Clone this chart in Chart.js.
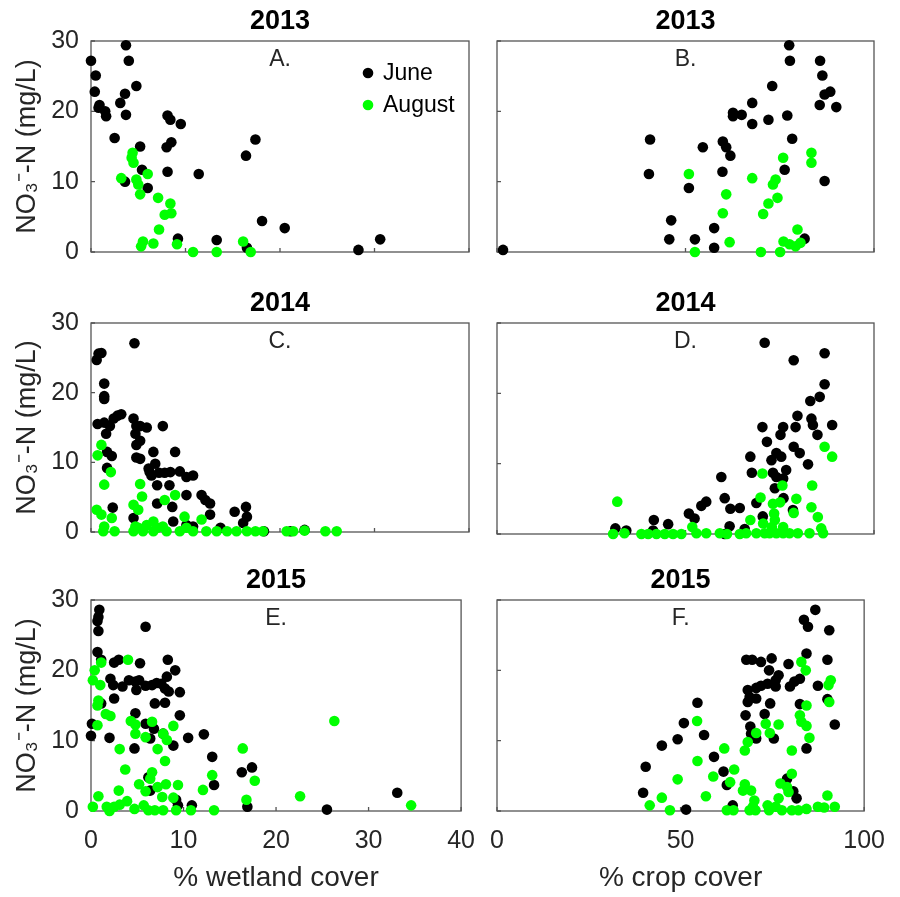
<!DOCTYPE html>
<html>
<head>
<meta charset="utf-8">
<script src="https://cdn.jsdelivr.net/npm/chart.js@4/dist/chart.umd.min.js"></script>
<style>
body { margin: 0; background: #fff; }
#wrap { position: relative; width: 900px; height: 897px; overflow: hidden; }
#wrap canvas { position: absolute; }
</style>
</head>
<body>
<div id="wrap"></div>
<script>
// axis ticks / labels
var yTicks = [0, 10, 20, 30];
var wetTicks = [0, 10, 20, 30, 40];
var cropTicks = [0, 50, 100];
var years = ['2013', '2014', '2015'];
var letters = [['A.', 'B.'], ['C.', 'D.'], ['E.', 'F.']];
var seriesNames = ['June', 'August'];

// 2013 - wetland cover [x, NO3-N]
var wet13June = [[0,27.2],[0.5,25.1],[0.4,22.8],[0.9,20.9],[0.8,20.5],[1.5,20.0],[1.6,19.3],[3.7,29.4],[4.0,27.2],[3.6,22.5],[3.1,21.2],[3.7,19.5],[4.8,23.6],[2.5,16.2],[5.2,15.0],[5.4,11.7],[3.6,10.0],[6.0,9.1],[8.1,19.4],[8.4,18.8],[9.5,18.2],[8.5,15.6],[8.0,14.9],[8.1,11.4],[11.4,11.1],[17.4,16.0],[16.4,13.7],[18.1,4.4],[20.5,3.4],[9.2,1.9],[13.3,1.7],[16.5,0.6],[28.3,0.3],[30.6,1.8]];
var wet13Aug = [[4.4,14.1],[4.3,13.4],[4.5,12.7],[3.2,10.5],[4.8,10.3],[5.0,9.6],[5.2,8.2],[6.0,11.1],[7.1,7.7],[8.4,6.9],[8.5,5.5],[7.8,5.3],[7.2,3.2],[5.5,1.5],[5.3,0.8],[6.6,1.2],[9.1,1.1],[10.8,0],[13.3,0],[16.1,1.5],[16.9,0]];
// 2013 - crop cover
var crop13June = [[1.6,0.3],[40.6,16.0],[40.3,11.1],[46.2,4.5],[45.7,1.8],[52.5,1.8],[57.6,0.6],[57.6,3.4],[50.9,9.1],[54.6,14.9],[59.9,15.7],[60.8,14.9],[61.9,13.7],[59.8,11.4],[62.6,19.8],[62.6,19.3],[64.9,19.5],[67.7,21.2],[67.7,18.2],[72.0,18.8],[73.0,23.6],[77.5,29.4],[77.7,27.2],[77.0,19.4],[78.3,16.1],[76.3,11.7],[85.7,27.2],[86.3,25.1],[88.4,22.8],[86.9,22.4],[85.6,20.9],[90.0,20.6],[86.9,10.1],[81.6,1.9]];
var crop13Aug = [[50.9,11.1],[52.5,0],[60.8,8.2],[59.9,5.5],[61.7,1.4],[67.7,10.5],[75.9,13.4],[83.4,14.1],[83.4,12.7],[73.9,10.3],[73.2,9.6],[74.4,7.7],[72.0,6.9],[70.6,5.4],[70.0,0],[75.1,0],[79.7,3.2],[76.0,1.5],[77.6,1.1],[79.2,0.8],[80.5,1.3]];

// 2014 - wetland cover
var wet14June = [[0.6,24.7],[0.8,25.6],[1.1,25.7],[1.4,21.3],[1.4,19.5],[1.4,19.1],[0.7,15.5],[1.4,15.7],[1.6,14.1],[2.0,15.2],[2.4,16.3],[2.8,16.7],[3.2,16.9],[1.7,11.5],[2.2,10.9],[1.7,9.2],[2.3,3.5],[4.6,27.1],[4.5,16.3],[4.8,15.2],[5.2,15.2],[5.9,15.0],[4.7,14.1],[4.8,12.5],[5.2,13.1],[4.8,10.7],[5.2,10.5],[7.6,15.2],[6.6,11.5],[6.8,9.8],[6.1,9.1],[6.4,8.1],[7.0,6.7],[6.2,8.6],[8.9,11.5],[7.2,8.5],[7.8,8.5],[8.4,8.6],[9.4,8.7],[10.1,7.9],[10.8,8.1],[8.3,6.7],[7.0,4.1],[8.6,3.6],[10.1,5.3],[11.7,5.3],[12.1,4.6],[12.6,4.1],[12.6,2.5],[4.5,2.0],[8.7,1.5],[10.1,1.0],[10.8,0.8],[13.7,0.6],[15.2,2.9],[16.4,3.6],[16.5,2.2],[16.1,1.3],[18.3,0.1],[21.1,0.1],[22.6,0.3]];
var wet14Aug = [[1.1,12.5],[0.7,11.0],[2.1,8.6],[1.4,6.8],[0.6,3.2],[1.1,2.5],[2.2,2.0],[1.4,0.8],[2.5,0.1],[1.3,0.1],[5.2,6.9],[5.4,5.1],[4.5,3.9],[5.0,3.2],[7.8,4.6],[8.9,5.3],[9.9,2.2],[11.7,1.8],[4.7,0.8],[5.9,1.0],[6.6,1.5],[7.6,0.8],[4.5,0.1],[5.0,0.6],[5.5,0.1],[6.6,0.1],[7.0,0.6],[8.0,0.1],[9.4,0.1],[10.1,0.6],[10.8,0.1],[12.2,0.1],[13.3,0.1],[14.4,0.1],[15.4,0.1],[16.5,0.1],[17.4,0.1],[18.2,0.1],[20.7,0.1],[21.4,0.1],[22.6,0.2],[24.8,0.1],[26.0,0.1]];
// 2014 - crop cover
var crop14June = [[71.0,27.2],[78.7,24.7],[86.9,25.7],[86.9,21.3],[85.6,19.5],[83.1,18.9],[79.7,16.8],[79.2,15.2],[83.4,16.4],[83.8,15.5],[88.9,15.5],[85.0,14.1],[70.4,15.2],[75.9,15.2],[75.2,14.1],[71.6,13.1],[78.7,12.4],[80.3,11.5],[74.1,11.5],[75.4,11.0],[72.8,10.5],[67.2,11.0],[82.5,9.9],[67.6,8.7],[73.2,8.7],[76.7,9.1],[74.1,8.1],[75.9,7.9],[73.7,6.5],[59.5,8.1],[60.4,5.1],[61.9,3.6],[64.4,3.7],[68.8,4.4],[76.0,5.1],[70.5,2.5],[78.5,3.4],[55.5,4.6],[54.2,4.0],[50.9,2.9],[52.4,2.2],[41.6,2.0],[45.4,1.4],[31.4,0.8],[34.3,0.5],[61.7,1.1],[60.4,0],[65.7,0.7],[41.4,0.5]];
var crop14Aug = [[31.9,4.6],[86.9,12.4],[88.9,11.0],[70.4,8.6],[75.7,6.9],[83.6,6.9],[69.9,5.2],[79.4,5.0],[73.2,4.3],[75.1,4.5],[83.4,3.8],[78.7,3.0],[85.1,2.4],[67.2,2.0],[73.5,2.9],[73.7,2.0],[51.8,1.0],[30.8,0],[33.8,0.1],[38.3,0],[40.1,0],[42.3,0],[44.5,0],[46.7,0],[48.9,0],[52.9,0.1],[55.5,0.1],[59.1,0.1],[61.0,0],[64.4,0],[66.1,0.1],[68.8,0.1],[71.0,0.1],[72.3,0.1],[74.1,0.1],[75.9,0.1],[77.6,0.1],[79.8,0.1],[82.9,0.1],[86.5,0.1],[75.9,1.0],[70.6,1.5],[86.0,0.8],[72.9,1.0]];

// 2015 - wetland cover
var wet15June = [[0.9,28.6],[0.8,27.6],[0.7,27.0],[0.8,25.6],[0.7,22.6],[1.1,21.5],[0.1,12.4],[0,10.7],[1.1,15.3],[2.0,10.4],[2.5,16.0],[2.5,21.1],[3.0,21.5],[2.1,18.8],[2.4,17.9],[3.4,17.7],[4.1,18.6],[4.8,18.4],[5.2,18.6],[4.9,17.2],[5.9,17.8],[6.6,17.9],[7.1,18.2],[7.6,18.1],[8.0,17.4],[8.4,17.0],[8.2,19.1],[9.1,20.0],[8.3,21.5],[9.6,16.9],[5.3,21.0],[5.9,26.2],[6.9,15.3],[8.0,15.4],[4.8,13.9],[9.6,13.6],[5.9,12.4],[6.8,11.7],[6.4,10.3],[7.8,11.0],[8.9,9.3],[4.7,8.9],[10.5,10.4],[12.2,10.9],[13.1,7.7],[13.3,3.7],[6.2,4.8],[6.4,2.9],[9.2,1.6],[9.4,0.8],[10.9,0.8],[16.3,5.5],[17.4,6.2],[16.9,0.6],[25.5,0.2],[33.1,2.6]];
var wet15Aug = [[0.4,20.0],[0.2,18.6],[1.0,17.9],[1.1,21.1],[0.8,15.7],[0.7,15.0],[0.7,12.2],[1.6,13.8],[2.1,13.5],[4.0,21.5],[4.3,12.8],[4.8,12.3],[4.8,11.0],[5.9,10.5],[6.6,12.7],[7.8,11.0],[8.2,10.1],[8.9,12.1],[3.1,8.8],[7.2,8.8],[8.0,7.1],[3.7,5.9],[6.6,5.5],[6.4,4.6],[5.2,3.8],[5.9,2.8],[7.2,3.4],[8.1,3.8],[9.4,3.7],[7.7,2.0],[8.9,1.9],[3.0,2.9],[0.8,2.1],[0.2,0.6],[1.7,0.6],[2.0,0],[2.5,0.6],[3.1,0.9],[3.9,1.4],[4.7,0.3],[5.7,0.8],[6.2,0.1],[6.9,0.1],[7.8,0.1],[9.2,0.1],[10.8,0.1],[13.3,0.1],[12.1,3.0],[13.1,5.1],[16.4,8.9],[17.7,4.3],[16.8,1.6],[22.6,2.1],[26.3,12.8],[34.6,0.8]];
// 2015 - crop cover
var crop15June = [[86.7,28.6],[83.6,27.2],[84.7,26.2],[90.5,25.7],[84.3,22.4],[90.0,21.5],[67.9,21.5],[69.5,21.5],[71.9,21.2],[74.8,21.7],[79.4,20.9],[74.1,20.0],[76.7,19.3],[75.9,18.6],[73.7,18.1],[71.9,17.8],[70.6,17.5],[68.3,17.2],[75.9,17.7],[79.8,17.7],[81.0,18.4],[82.5,18.8],[68.8,16.2],[70.6,16.0],[68.3,15.5],[74.4,15.3],[87.4,17.8],[90.0,15.9],[82.5,15.2],[92.0,12.3],[67.7,13.6],[72.9,13.8],[69.0,12.0],[69.2,11.0],[70.6,10.3],[75.4,10.3],[84.3,8.9],[54.6,15.4],[50.9,12.5],[56.4,10.8],[49.2,10.2],[44.9,9.3],[59.1,7.7],[40.5,6.3],[61.7,5.6],[62.6,3.7],[39.8,2.6],[51.5,0.2],[64.2,0.8],[79.0,4.6],[80.7,2.8],[81.6,1.8]];
var crop15Aug = [[82.9,21.2],[84.1,20.0],[90.9,18.6],[90.3,17.9],[90.5,15.5],[84.3,15.0],[82.5,13.6],[82.9,12.7],[84.3,12.1],[85.1,10.4],[80.3,8.6],[73.2,12.4],[76.7,12.3],[74.3,11.1],[70.6,11.1],[68.3,9.8],[67.5,8.6],[61.9,8.9],[64.6,5.9],[54.5,12.8],[54.6,7.1],[58.9,4.9],[49.2,4.5],[63.5,4.1],[67.5,3.8],[69.2,2.9],[67.0,2.9],[56.9,2.1],[44.9,1.9],[41.6,0.8],[47.1,0.1],[80.3,5.3],[77.2,3.9],[79.0,3.4],[79.4,2.7],[76.7,1.8],[90.0,2.2],[70.1,1.5],[62.6,0.1],[64.4,0.1],[68.8,0.1],[70.4,0.1],[73.7,0.8],[74.1,0.1],[75.9,0.6],[77.6,0.1],[80.3,0.1],[82.1,0.1],[84.3,0.3],[87.4,0.6],[89.1,0.5],[92.0,0.6],[69.7,0.6]];

var panelData = [
    [[wet13June, wet13Aug], [crop13June, crop13Aug]],
    [[wet14June, wet14Aug], [crop14June, crop14Aug]],
    [[wet15June, wet15Aug], [crop15June, crop15Aug]]
];

var FONT = "'Liberation Sans', Arial, Helvetica, sans-serif";
var INK = '#262626';
var colors = ['#000000', '#00ff00'];

// box, inward ticks, year title, panel letter and legend
var panelDeco = {
    id: 'panelDeco',
    beforeDatasetsDraw: function (chart, args, opts) {
        var ctx = chart.ctx, a = chart.chartArea;
        var xs = chart.scales.x, ys = chart.scales.y;
        ctx.save();
        ctx.strokeStyle = '#555555';
        ctx.lineWidth = 1.3;
        ctx.strokeRect(a.left, a.top, a.right - a.left, a.bottom - a.top);
        ctx.beginPath();
        xs.ticks.forEach(function (t) {
            var px = xs.getPixelForValue(t.value);
            ctx.moveTo(px, a.bottom); ctx.lineTo(px, a.bottom - 4);
        });
        ys.ticks.forEach(function (t) {
            var py = ys.getPixelForValue(t.value);
            ctx.moveTo(a.left, py); ctx.lineTo(a.left + 4, py);
        });
        ctx.stroke();
        ctx.restore();
    },
    afterDatasetsDraw: function (chart, args, opts) {
        var ctx = chart.ctx, a = chart.chartArea;
        var cx = (a.left + a.right) / 2;
        ctx.save();
        ctx.textAlign = 'center';
        ctx.textBaseline = 'middle';
        ctx.fillStyle = '#000';
        ctx.font = 'bold 27px ' + FONT;
        ctx.fillText(opts.title, cx, a.top - 19);
        ctx.fillStyle = INK;
        ctx.font = '23px ' + FONT;
        ctx.fillText(opts.letter, cx, a.top + 19);
        if (opts.legend) {
            ctx.textAlign = 'left';
            seriesNames.forEach(function (name, i) {
                var y = a.top + 32 + i * 32;
                ctx.fillStyle = colors[i];
                ctx.beginPath();
                ctx.arc(a.right - 101, y, 5.3, 0, Math.PI * 2);
                ctx.fill();
                ctx.fillStyle = '#000';
                ctx.fillText(name, a.right - 86, y + 1);
            });
        }
        ctx.restore();
    }
};

var cols = [
    { left: 0, width: 490, yW: 91, padR: 21, ticks: wetTicks, max: 40, title: '% wetland cover' },
    { left: 470, width: 430, yW: 27, padR: 26, ticks: cropTicks, max: 100, title: '% crop cover' }
];
var rows = [
    { top: 0, height: 282, padB: 30, xH: 0 },
    { top: 282, height: 277, padB: 25, xH: 0 },
    { top: 559, height: 338, padB: 0, xH: 86 }
];

function makePanel(r, c) {
    var row = rows[r], col = cols[c];
    var canvas = document.createElement('canvas');
    canvas.width = col.width;
    canvas.height = row.height;
    canvas.style.left = col.left + 'px';
    canvas.style.top = row.top + 'px';
    document.getElementById('wrap').appendChild(canvas);

    var bottomRow = (r === 2);
    var firstCol = (c === 0);
    var sets = panelData[r][c];

    new Chart(canvas, {
        type: 'scatter',
        data: {
            datasets: sets.map(function (pts, i) {
                return {
                    label: seriesNames[i],
                    data: pts.map(function (p) { return { x: p[0], y: p[1] }; }),
                    backgroundColor: colors[i],
                    borderWidth: 0,
                    pointRadius: 5.3,
                    pointHoverRadius: 5.3,
                    clip: false,
                    order: 2 - i // August drawn on top
                };
            })
        },
        options: {
            responsive: false,
            animation: false,
            events: [],
            layout: { padding: { top: 41, left: 0, right: col.padR, bottom: row.padB } },
            plugins: {
                legend: { display: false },
                tooltip: { enabled: false },
                title: { display: false },
                panelDeco: { title: years[r], letter: letters[r][c], legend: (r === 0 && c === 0) }
            },
            scales: {
                x: {
                    type: 'linear',
                    min: 0,
                    max: col.max,
                    grid: { display: false, drawTicks: false },
                    border: { display: false },
                    afterBuildTicks: function (s) { s.ticks = col.ticks.map(function (v) { return { value: v }; }); },
                    afterFit: function (s) { s.height = row.xH; },
                    ticks: { display: bottomRow, padding: 15, color: INK, font: { family: FONT, size: 25 } },
                    title: { display: bottomRow, text: col.title, color: INK, padding: { top: 0, bottom: 2 }, font: { family: FONT, size: 28 } }
                },
                y: {
                    type: 'linear',
                    min: 0,
                    max: 30,
                    grid: { display: false, drawTicks: false },
                    border: { display: false },
                    afterBuildTicks: function (s) { s.ticks = yTicks.map(function (v) { return { value: v }; }); },
                    afterFit: function (s) { s.width = col.yW; },
                    ticks: { display: firstCol, padding: 12, color: INK, font: { family: FONT, size: 25 } },
                    title: { display: firstCol, text: 'NO\u2083\u207B-N (mg/L)', color: INK, padding: { top: 11, bottom: 0 }, font: { family: FONT, size: 27 } }
                }
            }
        },
        plugins: [panelDeco]
    });
}

for (var r = 0; r < 3; r++) {
    for (var c = 0; c < 2; c++) {
        makePanel(r, c);
    }
}
</script>
</body>
</html>
